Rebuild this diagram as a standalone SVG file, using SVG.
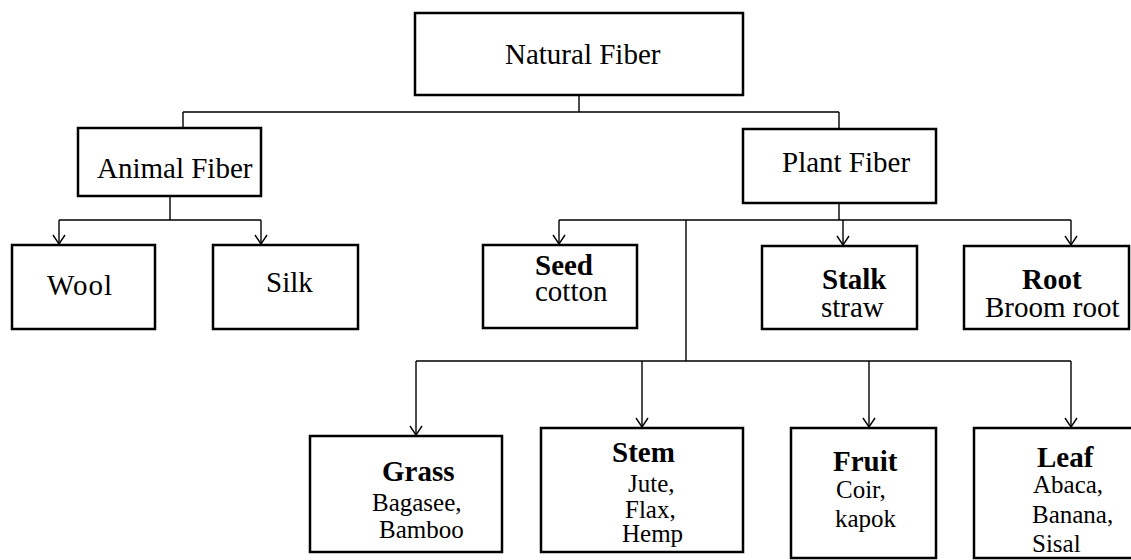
<svg xmlns="http://www.w3.org/2000/svg" width="1131" height="560" viewBox="0 0 1131 560">
<style>
.box{fill:#fff;stroke:#000;stroke-width:2.5}
.t{font-family:"Liberation Serif","Times New Roman",serif;fill:#000}
.n{font-size:29px}
.b{font-size:29px;font-weight:bold}
.s{font-size:25px}
.c{fill:none;stroke:#000;stroke-width:1.4}
</style>
<defs>
<marker id="arr" viewBox="0 0 14 14" refX="11" refY="7" markerWidth="14" markerHeight="14" markerUnits="userSpaceOnUse" orient="auto">
<path d="M2,1 L11,7 L2,13" fill="none" stroke="#000" stroke-width="1.4"/>
</marker>
</defs>
<rect width="1131" height="560" fill="#fff"/>
<g id="connectors">
<path class="c" d="M579,95 V112 M183,112 H839 M183,112 V128 M839,112 V129"/>
<path class="c" d="M170,196 V220 M59,220 H261"/>
<path class="c" d="M59,220 V244" marker-end="url(#arr)"/>
<path class="c" d="M261,220 V244" marker-end="url(#arr)"/>
<path class="c" d="M839,203 V220 M559,220 H1071 M686,220 V361 M416,361 H1071"/>
<path class="c" d="M559,220 V244" marker-end="url(#arr)"/>
<path class="c" d="M843,220 V245" marker-end="url(#arr)"/>
<path class="c" d="M1071,220 V245" marker-end="url(#arr)"/>
<path class="c" d="M416,361 V435" marker-end="url(#arr)"/>
<path class="c" d="M642,361 V427" marker-end="url(#arr)"/>
<path class="c" d="M869,361 V427" marker-end="url(#arr)"/>
<path class="c" d="M1071,361 V427" marker-end="url(#arr)"/>
</g>
<g id="natural-fiber">
<rect class="box" x="415" y="13" width="328" height="82"/>
<text class="t n" x="505" y="64">Natural Fiber</text>
</g>
<g id="animal-fiber">
<rect class="box" x="78" y="128" width="183" height="68"/>
<text class="t n" x="97" y="178">Animal Fiber</text>
</g>
<g id="plant-fiber">
<rect class="box" x="743" y="129" width="193" height="74"/>
<text class="t n" x="782" y="172">Plant Fiber</text>
</g>
<g id="wool">
<rect class="box" x="12" y="245" width="143" height="84"/>
<text class="t n" x="47" y="295" letter-spacing="1">Wool</text>
</g>
<g id="silk">
<rect class="box" x="213" y="245" width="145" height="84"/>
<text class="t n" x="266" y="292">Silk</text>
</g>
<g id="seed">
<rect class="box" x="483" y="245" width="154" height="83"/>
<text class="t b" x="535" y="275">Seed</text>
<text class="t n" x="535" y="301">cotton</text>
</g>
<g id="stalk">
<rect class="box" x="762" y="246" width="155" height="83"/>
<text class="t b" x="822" y="289">Stalk</text>
<text class="t n" x="821" y="317">straw</text>
</g>
<g id="root">
<rect class="box" x="964" y="246" width="165" height="83"/>
<text class="t b" x="1022" y="289">Root</text>
<text class="t n" x="985" y="317">Broom root</text>
</g>
<g id="grass">
<rect class="box" x="310" y="436" width="192" height="116"/>
<text class="t b" x="382" y="481">Grass</text>
<text class="t s" x="372" y="511">Bagasee,</text>
<text class="t s" x="379" y="538">Bamboo</text>
</g>
<g id="stem">
<rect class="box" x="541" y="428" width="202" height="124"/>
<text class="t b" x="612" y="462">Stem</text>
<text class="t s" x="628" y="492">Jute,</text>
<text class="t s" x="625" y="518">Flax,</text>
<text class="t s" x="622" y="542">Hemp</text>
</g>
<g id="fruit">
<rect class="box" x="791" y="428" width="145" height="130"/>
<text class="t b" x="833" y="471">Fruit</text>
<text class="t s" x="836" y="498">Coir,</text>
<text class="t s" x="835" y="527">kapok</text>
</g>
<g id="leaf">
<rect class="box" x="974" y="428" width="160" height="130"/>
<text class="t b" x="1037" y="467">Leaf</text>
<text class="t s" x="1033" y="493">Abaca,</text>
<text class="t s" x="1032" y="523">Banana,</text>
<text class="t s" x="1032" y="552">Sisal</text>
</g>
</svg>
